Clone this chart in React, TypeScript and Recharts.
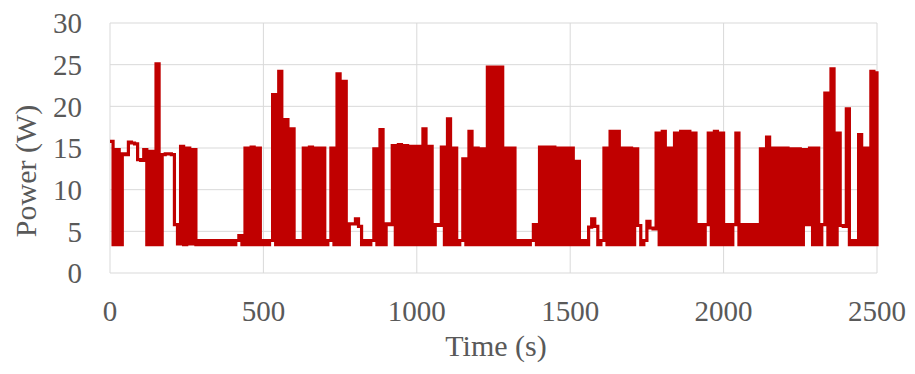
import React from 'react';
import { LineChart, Line, XAxis, YAxis, CartesianGrid, Label } from 'recharts';

// Sampling interval of the recorded trace (seconds)
const SAMPLE_INTERVAL = 10;

// Power samples (W), one every 10 s from t = 0 to t = 2500 s
const POWER: number[] = [
  // 0–90 s
  15.8, 3.4, 14.8, 3.4, 14.3, 14.2, 15.7, 15.6, 15.5, 13.6,
  // 100–190 s
  13.5, 14.8, 3.4, 14.6, 3.4, 25.1, 3.4, 14.2, 14.3, 14.3,
  // 200–290 s
  14.2, 5.8, 3.5, 15.2, 3.4, 15.0, 3.5, 14.8, 3.4, 3.9,
  // 300–390 s
  3.4, 3.9, 3.4, 3.9, 3.4, 3.9, 3.4, 3.9, 3.4, 3.9,
  // 400–490 s
  3.4, 3.9, 4.5, 3.4, 15.0, 3.4, 15.1, 3.4, 15.0, 3.4,
  // 500–590 s
  3.9, 3.4, 3.9, 21.4, 3.4, 24.2, 3.4, 18.4, 3.4, 17.3,
  // 600–690 s
  3.4, 3.9, 3.4, 15.0, 3.4, 15.1, 3.4, 15.0, 3.4, 15.0,
  // 700–790 s
  3.4, 3.9, 15.0, 3.4, 23.9, 3.4, 23.0, 3.4, 5.9, 5.9,
  // 800–890 s
  6.5, 5.6, 3.4, 3.9, 3.4, 3.9, 14.9, 3.4, 17.2, 3.4,
  // 900–990 s
  5.9, 5.8, 15.3, 3.4, 15.4, 3.4, 15.3, 3.4, 15.2, 3.4,
  // 1000–1090 s
  15.2, 3.4, 17.3, 3.4, 15.2, 3.4, 5.8, 5.7, 15.1, 3.4,
  // 1100–1190 s
  18.5, 3.4, 15.0, 3.4, 3.9, 13.7, 3.4, 17.0, 3.4, 15.0,
  // 1200–1290 s
  3.4, 14.9, 3.4, 24.7, 3.4, 24.7, 3.4, 24.7, 3.4, 15.0,
  // 1300–1390 s
  3.4, 15.0, 3.4, 3.9, 3.4, 3.9, 3.4, 3.9, 5.8, 3.4,
  // 1400–1490 s
  15.1, 3.4, 15.1, 3.4, 15.1, 3.4, 15.0, 3.4, 15.0, 3.4,
  // 1500–1590 s
  15.0, 3.4, 13.4, 3.4, 3.9, 3.4, 5.5, 6.5, 5.6, 3.4,
  // 1600–1690 s
  3.9, 15.0, 3.4, 17.0, 3.4, 17.0, 3.4, 15.0, 3.4, 15.0,
  // 1700–1790 s
  3.4, 14.9, 5.7, 3.4, 3.9, 6.2, 5.4, 5.3, 16.8, 3.4,
  // 1800–1890 s
  17.0, 3.4, 15.0, 3.4, 16.8, 3.4, 17.0, 3.4, 17.0, 3.4,
  // 1900–1990 s
  16.8, 3.4, 5.8, 3.4, 5.8, 16.8, 3.4, 17.0, 3.4, 16.8,
  // 2000–2090 s
  3.4, 5.8, 3.4, 5.8, 16.8, 3.4, 5.8, 3.4, 5.8, 3.4,
  // 2100–2190 s
  5.8, 3.4, 14.9, 3.4, 16.3, 3.4, 15.0, 3.4, 15.0, 3.4,
  // 2200–2290 s
  15.0, 3.4, 14.9, 3.4, 14.9, 3.4, 14.8, 5.8, 15.0, 3.4,
  // 2300–2390 s
  15.0, 3.4, 5.8, 21.6, 3.4, 24.5, 3.4, 16.8, 5.7, 5.6,
  // 2400–2490 s
  19.7, 3.4, 3.9, 3.4, 16.6, 3.4, 15.0, 3.4, 24.2, 3.4,
  // 2500 s
  24.2,
];

const X_TICKS = [0, 500, 1000, 1500, 2000, 2500];
const Y_TICKS = [0, 5, 10, 15, 20, 25, 30];
const X_TITLE = 'Time (s)';
const Y_TITLE = 'Power (W)';

const data = POWER.map((p, i) => ({ time: i * SAMPLE_INTERVAL, power: p }));

const FONT = '"Liberation Serif", "Times New Roman", serif';
const TEXT_COLOR = '#595959';

export default function App() {
  return (
    <div style={{ position: 'absolute', left: 0, top: 0 }}>
      <LineChart
        width={915}
        height={374}
        data={data}
        margin={{ top: 23, right: 38, left: 0, bottom: 0 }}
      >
        <CartesianGrid stroke="#d9d9d9" strokeWidth={1} />
        <XAxis
          dataKey="time"
          type="number"
          domain={[0, 2500]}
          ticks={X_TICKS}
          height={101}
          axisLine={false}
          tickLine={false}
          tickSize={0}
          tickMargin={27}
          interval={0}
          tick={{ fill: TEXT_COLOR, fontSize: 29, fontFamily: FONT }}
        >
          <Label
            content={() => (
              <text
                x={496}
                y={356}
                textAnchor="middle"
                fill={TEXT_COLOR}
                fontSize={30}
                fontFamily={FONT}
              >
                {X_TITLE}
              </text>
            )}
          />
        </XAxis>
        <YAxis
          type="number"
          domain={[0, 30]}
          ticks={Y_TICKS}
          width={110}
          axisLine={false}
          tickLine={false}
          tickSize={0}
          tickMargin={28}
          interval={0}
          tick={{ fill: TEXT_COLOR, fontSize: 29, fontFamily: FONT }}
        >
          <Label
            content={() => (
              <text
                x={36}
                y={171}
                transform="rotate(-90 36 171)"
                textAnchor="middle"
                fill={TEXT_COLOR}
                fontSize={30}
                fontFamily={FONT}
              >
                {Y_TITLE}
              </text>
            )}
          />
        </YAxis>
        <Line
          type="stepAfter"
          dataKey="power"
          stroke="#c00000"
          strokeWidth={3.2}
          dot={false}
          activeDot={false}
          isAnimationActive={false}
        />
      </LineChart>
    </div>
  );
}
